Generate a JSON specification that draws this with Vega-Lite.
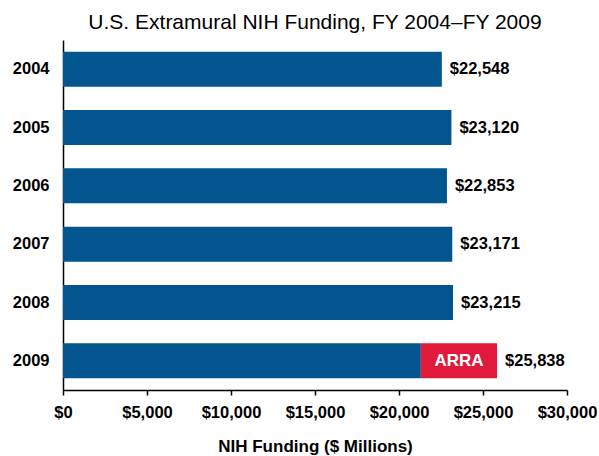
{
  "$schema": "https://vega.github.io/schema/vega-lite/v6.json",
  "width": 504,
  "height": 350,
  "autosize": {"type": "none"},
  "padding": {"left": 63, "top": 40, "right": 32, "bottom": 66},
  "background": "white",
  "config": {
    "view": {"stroke": null},
    "font": "Liberation Sans"
  },
  "title": {
    "text": "U.S. Extramural NIH Funding, FY 2004–FY 2009",
    "fontSize": 21,
    "fontWeight": "normal",
    "font": "Liberation Sans",
    "color": "#000000",
    "anchor": "middle",
    "offset": 7
  },
  "datasets": {
    "segments": [
      {"year": "2004", "seg": "Base", "start": 0, "end": 22548},
      {"year": "2005", "seg": "Base", "start": 0, "end": 23120},
      {"year": "2006", "seg": "Base", "start": 0, "end": 22853},
      {"year": "2007", "seg": "Base", "start": 0, "end": 23171},
      {"year": "2008", "seg": "Base", "start": 0, "end": 23215},
      {"year": "2009", "seg": "Base", "start": 0, "end": 21300},
      {"year": "2009", "seg": "ARRA", "start": 21300, "end": 25838}
    ],
    "totals": [
      {"year": "2004", "total": 22548},
      {"year": "2005", "total": 23120},
      {"year": "2006", "total": 22853},
      {"year": "2007", "total": 23171},
      {"year": "2008", "total": 23215},
      {"year": "2009", "total": 25838}
    ]
  },
  "encoding": {
    "y": {
      "field": "year",
      "type": "nominal",
      "sort": ["2004", "2005", "2006", "2007", "2008", "2009"],
      "scale": {"paddingInner": 0.4, "paddingOuter": 0.2},
      "axis": {
        "title": null,
        "domainColor": "#000000",
        "domainWidth": 1.5,
        "ticks": false,
        "labelFont": "Liberation Sans",
        "labelFontWeight": "bold",
        "labelFontSize": 16.5,
        "labelColor": "#000000",
        "labelPadding": 14
      }
    }
  },
  "layer": [
    {
      "data": {"name": "segments"},
      "mark": {"type": "bar"},
      "encoding": {
        "x": {
          "field": "start",
          "type": "quantitative",
          "scale": {"domain": [0, 30000], "nice": false},
          "axis": {
            "title": "NIH Funding ($ Millions)",
            "titleFont": "Liberation Sans",
            "titleFontWeight": "bold",
            "titleFontSize": 17,
            "titleColor": "#000000",
            "titlePadding": 18,
            "values": [0, 5000, 10000, 15000, 20000, 25000, 30000],
            "format": "$,.0f",
            "grid": false,
            "domainColor": "#000000",
            "domainWidth": 1.5,
            "tickColor": "#000000",
            "tickWidth": 1.5,
            "tickSize": 5,
            "labelFont": "Liberation Sans",
            "labelFontWeight": "bold",
            "labelFontSize": 16.5,
            "labelColor": "#000000",
            "labelPadding": 9,
            "labelFlush": false,
            "labelOverlap": false
          }
        },
        "x2": {"field": "end"},
        "color": {
          "field": "seg",
          "type": "nominal",
          "scale": {"domain": ["Base", "ARRA"], "range": ["#02558F", "#E11A3B"]},
          "legend": null
        }
      }
    },
    {
      "data": {"name": "totals"},
      "mark": {
        "type": "text",
        "align": "left",
        "baseline": "middle",
        "dx": 8,
        "font": "Liberation Sans",
        "fontWeight": "bold",
        "fontSize": 16.5,
        "color": "#000000"
      },
      "encoding": {
        "x": {"field": "total", "type": "quantitative"},
        "text": {"field": "total", "type": "quantitative", "format": "$,.0f"}
      }
    },
    {
      "data": {"name": "segments"},
      "transform": [{"filter": "datum.seg === 'ARRA'"}],
      "mark": {
        "type": "text",
        "align": "center",
        "baseline": "middle",
        "dx": -38,
        "font": "Liberation Sans",
        "fontWeight": "bold",
        "fontSize": 17,
        "color": "#FFFFFF"
      },
      "encoding": {
        "x": {"field": "end", "type": "quantitative"},
        "text": {"field": "seg", "type": "nominal"}
      }
    }
  ]
}
